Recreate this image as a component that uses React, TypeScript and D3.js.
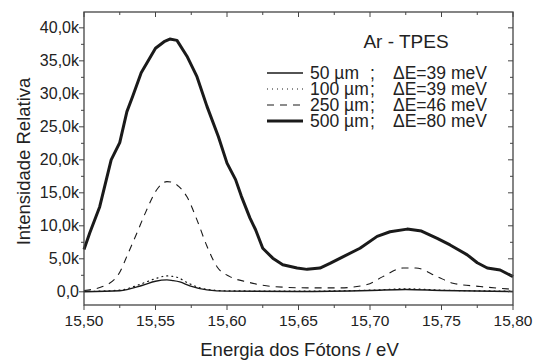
import React from "react";
import * as d3 from "d3";

// ---- data (energies in eV, intensities in counts) ----
const e500 = [15.500, 15.504, 15.511, 15.519, 15.525, 15.530, 15.534, 15.540, 15.550, 15.556, 15.560, 15.565, 15.572, 15.579, 15.586, 15.594, 15.600, 15.606, 15.610, 15.616, 15.620, 15.625, 15.632, 15.639, 15.649, 15.656, 15.665, 15.672, 15.681, 15.693, 15.705, 15.714, 15.726, 15.736, 15.747, 15.756, 15.768, 15.775, 15.782, 15.791, 15.800];
const v500 = [6400, 8900, 12900, 20000, 22600, 27300, 29600, 33200, 36900, 37900, 38300, 38100, 35700, 32600, 28100, 23500, 19500, 17000, 14500, 11200, 9400, 6600, 5100, 4100, 3600, 3400, 3600, 4300, 5300, 6600, 8400, 9100, 9500, 9200, 8100, 7100, 5600, 4400, 3600, 3300, 2300];

const e250 = [15.500, 15.513, 15.524, 15.531, 15.537, 15.543, 15.551, 15.558, 15.562, 15.566, 15.572, 15.579, 15.586, 15.593, 15.602, 15.614, 15.632, 15.656, 15.679, 15.698, 15.709, 15.723, 15.732, 15.747, 15.758, 15.777, 15.796, 15.800];
const v250 = [200, 800, 2600, 5900, 8900, 12000, 15500, 16700, 16600, 16000, 14400, 10900, 6900, 3800, 2300, 1500, 800, 600, 600, 1100, 2300, 3600, 3600, 2300, 1300, 800, 450, 400];

const e100 = [15.500, 15.525, 15.540, 15.550, 15.558, 15.565, 15.573, 15.585, 15.600, 15.650, 15.700, 15.725, 15.750, 15.800];
const v100 = [50, 250, 1200, 2000, 2400, 2200, 1300, 400, 150, 100, 250, 450, 250, 100];

const e50 = [15.500, 15.525, 15.541, 15.550, 15.558, 15.562, 15.567, 15.574, 15.586, 15.600, 15.650, 15.700, 15.725, 15.750, 15.800];
const v50 = [0, 150, 1000, 1600, 1800, 1700, 1500, 900, 300, 100, 50, 200, 350, 200, 50];

const xTicks = [15.50, 15.55, 15.60, 15.65, 15.70, 15.75, 15.80];
const xTickLabels = ["15,50", "15,55", "15,60", "15,65", "15,70", "15,75", "15,80"];
const yTicks = [0, 5000, 10000, 15000, 20000, 25000, 30000, 35000, 40000];
const yTickLabels = ["0,0", "5,0k", "10,0k", "15,0k", "20,0k", "25,0k", "30,0k", "35,0k", "40,0k"];

const legendTitle = "Ar - TPES";
const legendSizes = ["50 µm", "100 µm", "250 µm", "500 µm"];
const legendRes = ["ΔE=39 meV", "ΔE=39 meV", "ΔE=46 meV", "ΔE=80 meV"];

const xTitle = "Energia dos Fótons / eV";
const yTitle = "Intensidade Relativa";

const W = 534, H = 361;
const L = 84, R = 513, T = 12, B = 305;
const FONT = "'Liberation Sans', Arial, sans-serif";
const INK = "#1a1a1a";
const AX = "#444";

export default function App() {
  const x = d3.scaleLinear().domain([15.5, 15.8]).range([L, R]);
  const y = d3.scaleLinear().domain([-2000, 42400]).range([B, T]);

  const mk = (es: number[], vs: number[], curve: any) =>
    d3.line<number>().x((_, i) => x(es[i])).y((v) => y(v)).curve(curve)(vs) || "";

  const p500 = mk(e500, v500, d3.curveLinear);
  const p250 = mk(e250, v250, d3.curveMonotoneX);
  const p100 = mk(e100, v100, d3.curveMonotoneX);
  const p50 = mk(e50, v50, d3.curveMonotoneX);

  const xMinor = d3.range(0, 13).map((i) => 15.5 + i * 0.025);
  const yMinor = d3.range(0, 17).map((i) => i * 2500).filter((v) => v <= 42400);

  const styles = [
    { w: 1.4, dash: "" },
    { w: 1.2, dash: "1 4" },
    { w: 1.1, dash: "7 6" },
    { w: 3, dash: "" },
  ];
  const rowsY = [73, 89, 105, 121];

  return (
    <div style={{ position: "absolute", left: 0, top: 0 }}>
      <svg width={W} height={H} style={{ display: "block", background: "#fff" }}>
        <rect x={0} y={0} width={W} height={H} fill="#fff" />
        {/* curves */}
        <g fill="none" stroke={INK} strokeLinejoin="round">
          <path d={p50} strokeWidth={1.4} />
          <path d={p100} strokeWidth={1.2} strokeDasharray="1 4" strokeLinecap="round" />
          <path d={p250} strokeWidth={1.1} strokeDasharray="7 6" />
          <path d={p500} strokeWidth={3} />
        </g>
        {/* frame */}
        <rect x={L} y={T} width={R - L} height={B - T} fill="none" stroke={AX} strokeWidth={1.3} />
        {/* ticks */}
        <g stroke={AX} strokeWidth={1}>
          {xMinor.map((v, i) => {
            const len = i % 2 === 0 ? 5 : 3;
            return (
              <g key={"xt" + i}>
                <line x1={x(v)} x2={x(v)} y1={B} y2={B + len} />
                <line x1={x(v)} x2={x(v)} y1={T} y2={T + len} />
              </g>
            );
          })}
          {yMinor.map((v, i) => {
            const len = i % 2 === 0 ? 5 : 3;
            return (
              <g key={"yt" + i}>
                <line x1={L} x2={L - len} y1={y(v)} y2={y(v)} />
                <line x1={R} x2={R - len} y1={y(v)} y2={y(v)} />
              </g>
            );
          })}
        </g>
        {/* tick labels */}
        <g fontFamily={FONT} fill="#222">
          {xTicks.map((v, i) => (
            <text key={"xl" + i} x={x(v)} y={326} textAnchor="middle" fontSize={15.5}>
              {xTickLabels[i]}
            </text>
          ))}
          {yTicks.map((v, i) => (
            <text key={"yl" + i} x={79} y={y(v) + 5.5} textAnchor="end" fontSize={16}>
              {yTickLabels[i]}
            </text>
          ))}
        </g>
        {/* axis titles */}
        <text x={(L + R) / 2 + 1} y={356} textAnchor="middle" fontFamily={FONT} fontSize={18.5} fill="#222">
          {xTitle}
        </text>
        <text
          transform={`translate(30,${(T + B) / 2 + 3}) rotate(-90)`}
          textAnchor="middle"
          fontFamily={FONT}
          fontSize={18.5}
          fill="#222"
        >
          {yTitle}
        </text>
        {/* legend */}
        <g fontFamily={FONT} fill="#222">
          <text x={406} y={48} textAnchor="middle" fontSize={19}>{legendTitle}</text>
          {legendSizes.map((s, i) => (
            <g key={"lg" + i} fontSize={17.5}>
              <line
                x1={267}
                x2={303}
                y1={rowsY[i]}
                y2={rowsY[i]}
                stroke={INK}
                strokeWidth={styles[i].w}
                strokeDasharray={styles[i].dash}
              />
              <text x={310} y={rowsY[i] + 6}>{s}</text>
              <text x={370} y={rowsY[i] + 6}>;</text>
              <text x={393} y={rowsY[i] + 6}>{legendRes[i]}</text>
            </g>
          ))}
        </g>
      </svg>
    </div>
  );
}
